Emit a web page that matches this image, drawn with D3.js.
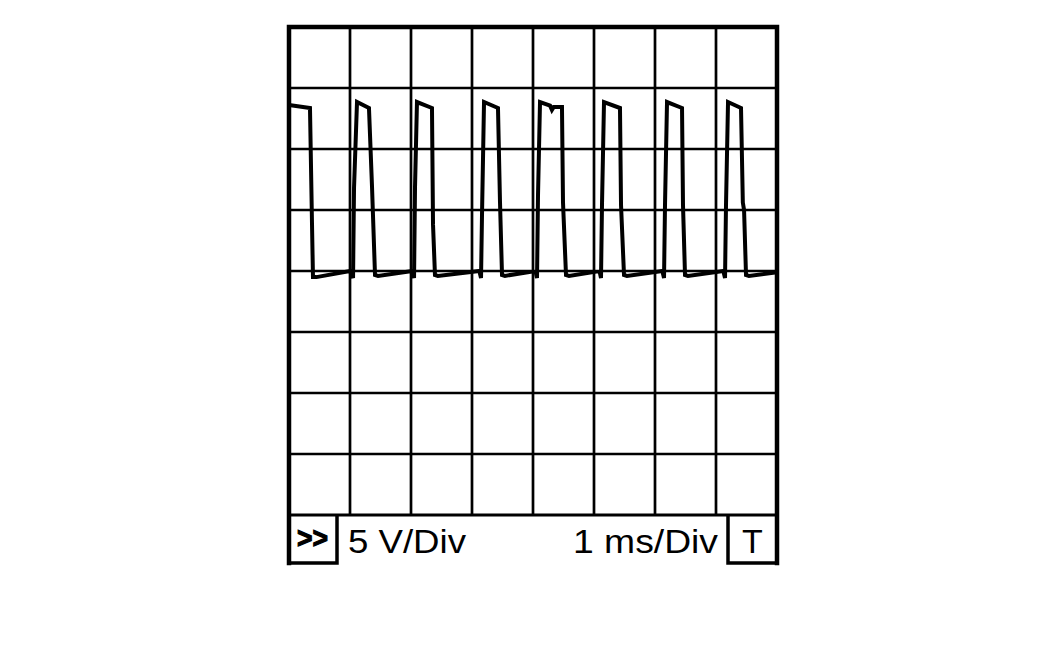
<!DOCTYPE html>
<html>
<head>
<meta charset="utf-8">
<script src="https://cdn.jsdelivr.net/npm/d3@7"></script>
<style>
  html, body { margin: 0; padding: 0; background: #fff; }
  svg { display: block; }
  text { font-family: "Liberation Sans", Arial, Helvetica, sans-serif; fill: #000; }
</style>
</head>
<body>
<svg id="chart" width="1063" height="661"></svg>
<script>
// ---- Data (time in ms, voltage in V) ----
const timeMs = [
  0, 0.344, 0.377, 0.393, 0.45,
  1.0, 1.05, 1.066, 1.115, 1.311, 1.361, 1.41, 1.46,
  2.02, 2.05, 2.066, 2.098, 2.344, 2.361, 2.393, 2.44,
  3.12, 3.148, 3.164, 3.197, 3.426, 3.459, 3.492, 3.54,
  4.04, 4.066, 4.082, 4.115, 4.28, 4.31, 4.34, 4.475, 4.492, 4.541, 4.59,
  5.09, 5.115, 5.131, 5.164, 5.426, 5.443, 5.492, 5.54,
  6.12, 6.148, 6.164, 6.197, 6.443, 6.459, 6.492, 6.54,
  7.12, 7.148, 7.164, 7.197, 7.41, 7.44, 7.46, 7.492, 7.54,
  8.0
];
const volts = [
  13.6, 13.36, 3.9, -0.5, -0.5,
  0.0, -0.57, 6.8, 13.85, 13.36, 6.9, -0.33, -0.4,
  0.0, -0.57, 6.9, 13.85, 13.36, 3.8, -0.33, -0.4,
  0.0, -0.57, 4.6, 13.85, 13.36, 5.65, -0.33, -0.4,
  0.0, -0.57, 6.2, 13.85, 13.55, 13.2, 13.45, 13.44, 5.6, -0.33, -0.4,
  0.0, -0.57, 5.4, 13.85, 13.36, 5.4, -0.33, -0.4,
  0.0, -0.57, 5.4, 13.85, 13.36, 5.4, -0.33, -0.4,
  0.0, -0.57, 5.4, 13.85, 13.36, 5.6, 5.0, -0.33, -0.4,
  -0.1
];
const timeDivs = [0, 1, 2, 3, 4, 5, 6, 7, 8];           // ms
const voltDivs = [-20, -15, -10, -5, 0, 5, 10, 15, 20]; // V
const voltLabel = "5 V/Div";
const timeLabel = "1 ms/Div";
const leftButton = ">>";
const rightButton = "T";

// ---- Layout ----
const pLeft = 289, pRight = 777, pTop = 27, pBottom = 515, barBottom = 563;
const svg = d3.select("#chart");

const x = d3.scaleLinear().domain([0, 8]).range([pLeft, pRight]);
const y = d3.scaleLinear().domain([-20, 20]).range([pBottom, pTop]);

// grid lines
const grid = svg.append("g");
grid.selectAll("line.v").data(timeDivs.slice(1, -1)).join("line")
  .attr("class", "v")
  .attr("x1", d => x(d)).attr("x2", d => x(d))
  .attr("y1", pTop).attr("y2", pBottom)
  .attr("stroke", "#000").attr("stroke-width", 2.7);
grid.selectAll("line.h").data(voltDivs.slice(1, -1)).join("line")
  .attr("class", "h")
  .attr("x1", pLeft).attr("x2", pRight)
  .attr("y1", d => y(d)).attr("y2", d => y(d))
  .attr("stroke", "#000").attr("stroke-width", 2.7);
grid.append("line").attr("x1", pLeft).attr("x2", pRight)
  .attr("y1", y(-20)).attr("y2", y(-20))
  .attr("stroke", "#000").attr("stroke-width", 3);

// waveform
const pts = timeMs.map((t, i) => [t, volts[i]]);
svg.append("path")
  .datum(pts)
  .attr("d", d3.line().x(d => x(d[0])).y(d => y(d[1])))
  .attr("fill", "none").attr("stroke", "#000")
  .attr("stroke-width", 4).attr("stroke-linejoin", "miter");

// outer frame
const frame = svg.append("g").attr("stroke", "#000").attr("stroke-width", 4.5).attr("fill", "none");
frame.append("path")
  .attr("d", `M${pLeft},${barBottom} L${pLeft},${pTop} L${pRight},${pTop} L${pRight},${barBottom}`)
  .attr("stroke-linecap", "square");

// bottom buttons
const btnW = 48;
frame.append("path")
  .attr("d", `M${pLeft},${barBottom} L${pLeft + btnW},${barBottom} L${pLeft + btnW},${pBottom}`)
  .attr("stroke-width", 3.5);
frame.append("path")
  .attr("d", `M${pRight},${barBottom} L${pRight - 49},${barBottom} L${pRight - 49},${pBottom}`)
  .attr("stroke-width", 3.5);

svg.append("text")
  .attr("x", 297).attr("y", 548)
  .attr("font-family", "'DejaVu Sans', sans-serif")
  .attr("font-size", 30).attr("font-weight", "bold")
  .attr("stroke", "#000").attr("stroke-width", 1.2)
  .attr("textLength", 31).attr("lengthAdjust", "spacingAndGlyphs")
  .text(leftButton);

svg.append("text")
  .attr("x", 348).attr("y", 553)
  .attr("font-size", 34)
  .attr("textLength", 118).attr("lengthAdjust", "spacingAndGlyphs")
  .text(voltLabel);

svg.append("text")
  .attr("x", 573).attr("y", 553)
  .attr("font-size", 34)
  .attr("textLength", 145).attr("lengthAdjust", "spacingAndGlyphs")
  .text(timeLabel);

svg.append("text")
  .attr("x", pRight - 24.5).attr("y", 553)
  .attr("text-anchor", "middle")
  .attr("font-size", 34)
  .text(rightButton);
</script>
</body>
</html>
